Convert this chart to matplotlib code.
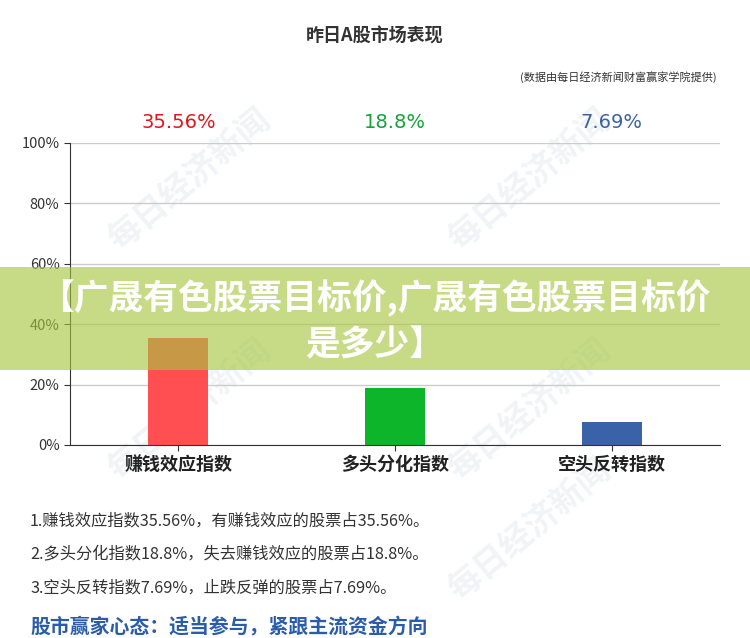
import matplotlib.pyplot as plt
from matplotlib.patches import Rectangle

plt.rcParams['font.family'] = ['Noto Sans CJK SC', 'DejaVu Sans']

# data
categories = ["赚钱效应指数", "多头分化指数", "空头反转指数"]
values = [35.56, 18.8, 7.69]
value_labels = ["35.56%", "18.8%", "7.69%"]
bar_colors = ["#FF4F52", "#0DB52B", "#3A62A8"]
label_colors = ["#E0161C", "#14A33A", "#3D62A0"]
yticks = [0, 20, 40, 60, 80, 100]
notes = [
    "1.赚钱效应指数35.56%，有赚钱效应的股票占35.56%。",
    "2.多头分化指数18.8%，失去赚钱效应的股票占18.8%。",
    "3.空头反转指数7.69%，止跌反弹的股票占7.69%。",
]
slogan = "股市赢家心态：适当参与，紧跟主流资金方向"
banner = "【广晟有色股票目标价,广晟有色股票目标价\n是多少】"

fig = plt.figure(figsize=(7.5, 6.38), dpi=100)
fig.patch.set_facecolor("white")

# faint watermarks, behind everything
for wx, wy in [(190, 180), (530, 180), (190, 410), (530, 410), (530, 530)]:
    fig.text(wx / 750, 1 - wy / 638, "每日经济新闻", ha="center", va="center",
             fontsize=24, fontweight="bold", color="#F1F4F7", rotation=40, zorder=-1)

ax = fig.add_axes([70 / 750, 1 - 445 / 638, 650 / 750, 302 / 638])
ax.patch.set_alpha(0)
x = list(range(len(categories)))
ax.bar(x, values, width=0.277, color=bar_colors, zorder=2)
ax.set_xlim(-0.5, 2.5)
ax.set_ylim(0, 100)
ax.set_yticks(yticks)
ax.set_yticklabels(["{}%".format(t) for t in yticks], fontsize=10.5, color="#333333")
ax.set_xticks(x)
ax.set_xticklabels(categories, fontsize=13, fontweight="bold", color="#222222")
ax.yaxis.grid(True, color="#CCCCCC", linewidth=1)
ax.set_axisbelow(True)
for s in ["top", "right"]:
    ax.spines[s].set_visible(False)
ax.spines["left"].set_color("#333333")
ax.spines["bottom"].set_color("#333333")
ax.tick_params(axis="x", length=4, color="#333333", pad=3)
ax.tick_params(axis="y", length=4, color="#333333")

# value labels above the plot
for xi, lab, c in zip(x, value_labels, label_colors):
    ax.text(xi, 103.5, lab, ha="center", va="bottom", fontsize=14, color=c,
            family=["DejaVu Sans"])

# titles
fig.text(375 / 750, 1 - 36 / 638, "昨日A股市场表现", ha="center", va="center",
         fontsize=13, fontweight="bold", color="#333333")
fig.text(717 / 750, 1 - 77 / 638, "(数据由每日经济新闻财富赢家学院提供)", ha="right",
         va="center", fontsize=8, color="#333333")

# notes below
for i, line in enumerate(notes):
    fig.text(30 / 750, 1 - (521 + 33.5 * i) / 638, line, ha="left", va="center",
             fontsize=11.7, color="#333333")
fig.text(30 / 750, 1 - 627 / 638, slogan, ha="left", va="center",
         fontsize=14.3, fontweight="bold", color="#2A5CAA")

# banner overlay
fig.patches.append(Rectangle((0, 1 - 370 / 638), 1, 103 / 638, transform=fig.transFigure,
                             facecolor="#A6C63D", alpha=0.62, edgecolor="none", zorder=5))
fig.text(0.5, 1 - 321 / 638, banner, ha="center", va="center", fontsize=25,
         fontweight="black", color="white", linespacing=1.35, zorder=6)

fig.savefig("out.png", dpi=100)
